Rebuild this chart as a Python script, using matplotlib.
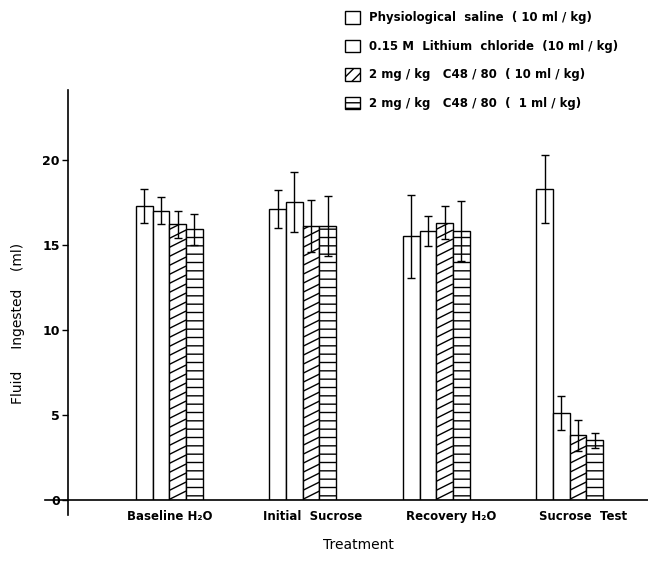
import numpy as np
import matplotlib
matplotlib.use("Agg")
import matplotlib.pyplot as plt
import matplotlib.transforms as mtransforms
from matplotlib.collections import LineCollection
from matplotlib.patches import Patch

# Adatok (leolvasva az ábráról)
categories = ["Baseline H\u2082O", "Initial  Sucrose", "Recovery H\u2082O", "Sucrose  Test"]
series_labels = [
    "Physiological  saline  ( 10 ml / kg)",
    "0.15 M  Lithium  chloride  (10 ml / kg)",
    "2 mg / kg   C48 / 80  ( 10 ml / kg)",
    "2 mg / kg   C48 / 80  (  1 ml / kg)",
]
saline = [17.3, 17.1, 15.5, 18.3]
saline_err = [1.0, 1.1, 2.45, 2.0]
licl = [17.0, 17.5, 15.8, 5.1]
licl_err = [0.8, 1.75, 0.9, 1.0]
c48_10 = [16.2, 16.1, 16.3, 3.8]
c48_10_err = [0.8, 1.5, 0.95, 0.9]
c48_1 = [15.9, 16.1, 15.8, 3.5]
c48_1_err = [0.9, 1.75, 1.75, 0.45]
yticks = [0, 5, 10, 15, 20]

plt.rcParams["font.family"] = ["DejaVu Sans"]
plt.rcParams["hatch.linewidth"] = 1.0

fig = plt.figure(figsize=(6.48, 5.65), dpi=100)
ax = fig.add_axes([0.105, 0.115, 0.895, 0.726])
ax.set_xlim(-0.76, 3.588)
ax.set_ylim(0, 24.1)

x = np.arange(len(categories))
w = 0.125
values = [saline, licl, c48_10, c48_1]
errors = [saline_err, licl_err, c48_10_err, c48_1_err]
hatches = [None, None, None, "--"]
legend_hatches = [None, None, "///", "---"]

bars = []
for k in range(4):
    pos = x + (k - 1.5) * w
    b = ax.bar(pos, values[k], w, color="white", edgecolor="black",
               linewidth=1.0, hatch=hatches[k], zorder=2)
    ax.errorbar(pos, values[k], yerr=errors[k], fmt="none", ecolor="black",
                elinewidth=1.0, capsize=3, capthick=1.0, zorder=3)
    bars.append(b)

# Lapos ferde vonalkázás a C48/80 (10 ml/kg) oszlopokon
slope, step = 0.5, 9.0
for rect in bars[2]:
    (x0, y0), (x1, y1) = ax.transData.transform(
        [(rect.get_x(), 0), (rect.get_x() + rect.get_width(), rect.get_height())])
    segs = []
    for yy in np.arange(y0 - slope * (x1 - x0), y1 + step, step):
        segs.append([(x0, yy), (x1, yy + slope * (x1 - x0))])
    lc = LineCollection(segs, colors="black", linewidths=1.0,
                        transform=mtransforms.IdentityTransform(), zorder=2.5)
    ax.add_collection(lc)
    lc.set_clip_box(mtransforms.Bbox([[x0, y0], [x1, y1]]))

# Tengelyek
for s in ["top", "right", "left", "bottom"]:
    ax.spines[s].set_visible(False)
ax.plot([-0.04, 1.0], [0, 0], transform=ax.transAxes, color="black",
        lw=1.2, clip_on=False, zorder=4)
ax.plot([0, 0], [-0.037, 1.0], transform=ax.transAxes, color="black",
        lw=1.2, clip_on=False, zorder=4)

ax.set_yticks(yticks)
ax.set_yticklabels([str(t) for t in yticks], fontweight="bold", fontsize=9)
ax.tick_params(axis="y", direction="out", length=4, width=1, pad=2)
ax.set_xticks(x)
ax.set_xticklabels(categories, fontweight="bold", fontsize=8.5)
ax.tick_params(axis="x", length=0, pad=7)
shifts = [0, 10, 15, 13]
for lab, dx in zip(ax.get_xticklabels(), shifts):
    lab.set_transform(lab.get_transform() +
                      mtransforms.ScaledTranslation(dx / 100, 0, fig.dpi_scale_trans))

ax.set_xlabel("Treatment", fontsize=10, labelpad=11)
ax.set_ylabel("Fluid     Ingested    (ml)", fontsize=10)
ax.yaxis.set_label_coords(-0.075, 0.43)

# Jelmagyarázat
handles = [Patch(facecolor="white", edgecolor="black", linewidth=1.0, hatch=h)
           for h in legend_hatches]
leg = ax.legend(handles, series_labels, loc="upper left", bbox_to_anchor=(0.52, 0.995),
                bbox_transform=fig.transFigure, frameon=False,
                prop={"weight": "bold", "size": 8.5}, handlelength=1.25,
                handleheight=1.25, labelspacing=1.3, handletextpad=0.8,
                borderpad=0.2)

fig.savefig("out.png", dpi=100)
